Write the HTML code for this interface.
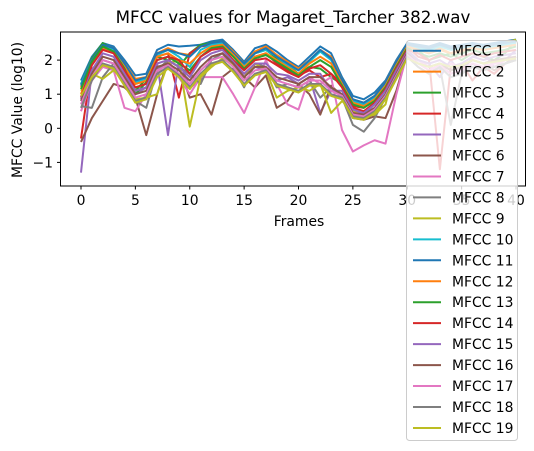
<!DOCTYPE html>
<html><head><meta charset="utf-8"><style>
html,body{margin:0;padding:0;background:#fff;}
svg{display:block;font-family:"DejaVu Sans","Liberation Sans",sans-serif;}
</style></head><body>
<svg id="chart" width="534" height="451" viewBox="0 0 534 451" xmlns="http://www.w3.org/2000/svg">
<text x="293" y="23" font-size="16.7" text-anchor="middle" fill="#000">MFCC values for Magaret_Tarcher 382.wav</text>
<text x="299" y="226" font-size="13.9" text-anchor="middle" fill="#000">Frames</text>
<text x="22" y="110" font-size="13.9" text-anchor="middle" fill="#000" transform="rotate(-90 22 110)">MFCC Value (log10)</text>
<g id="ticks"></g>
<g id="series"></g>
<rect x="60.5" y="32" width="465" height="154" fill="none" stroke="#000" stroke-width="1"/>
<g id="legend"></g>
</svg>
<script>
const names = ["MFCC 1","MFCC 2","MFCC 3","MFCC 4","MFCC 5","MFCC 6","MFCC 7","MFCC 8","MFCC 9","MFCC 10","MFCC 11","MFCC 12","MFCC 13","MFCC 14","MFCC 15","MFCC 16","MFCC 17","MFCC 18","MFCC 19"];
const xTicks = [0,5,10,15,20,25,30,35,40];
const yTicks = [-1,0,1,2];
const s1 = [1.4,2.1,2.5,2.4,2.0,1.55,1.6,2.3,2.45,2.4,2.42,2.45,2.55,2.6,2.3,1.95,2.35,2.45,2.25,2.0,1.8,2.1,2.4,2.2,1.5,0.95,0.85,1.05,1.4,2.0,2.5,2.45,2.4,2.5,2.4,2.45,2.5,2.45,2.5,2.55,2.6];
const s2 = [1.2,2.0,2.45,2.35,1.9,1.45,1.5,2.2,2.35,2.2,2.15,2.4,2.5,2.55,2.25,1.9,2.25,2.4,2.15,1.95,1.75,2.0,2.3,2.1,1.4,0.85,0.75,0.95,1.35,1.95,2.45,2.3,2.2,2.35,2.2,2.25,2.4,2.35,2.4,2.45,2.5];
const s3 = [1.3,2.05,2.5,2.3,1.85,1.1,1.45,2.1,2.0,1.8,2.2,2.45,2.5,2.55,2.2,1.85,2.2,2.3,2.05,1.85,1.6,1.8,1.75,1.5,1.3,0.75,0.7,0.9,1.3,1.9,2.4,2.3,2.0,2.1,2.2,2.0,2.2,2.1,2.0,2.2,2.6];
const s4 = [-0.3,1.9,2.4,2.3,1.9,1.3,1.4,2.1,2.2,0.9,2.2,2.4,2.45,2.5,2.2,1.8,2.1,2.2,1.9,1.7,1.55,1.7,1.5,1.6,1.3,0.65,0.6,0.85,1.25,1.85,2.4,2.1,2.0,-1.2,1.8,1.9,1.4,1.8,1.6,1.9,2.0];
const s5 = [-1.3,1.7,2.0,1.9,1.6,1.0,1.2,1.9,-0.2,2.0,1.2,1.4,2.1,2.2,1.9,1.6,1.8,1.7,1.4,1.5,1.3,1.5,0.45,1.1,1.0,0.5,0.4,0.7,1.1,1.7,2.3,2.0,1.9,1.5,2.0,1.6,2.1,2.2,1.8,2.0,2.3];
const s6 = [-0.4,0.3,0.8,1.3,1.2,0.9,-0.2,1.0,2.0,1.8,0.9,1.0,0.4,1.5,1.75,1.5,1.2,1.55,0.6,0.8,1.3,1.0,0.4,1.25,0.95,0.3,0.25,0.35,0.3,1.1,2.2,2.0,1.8,1.9,1.7,1.8,2.0,1.9,1.7,1.9,2.1];
const s7 = [0.5,1.4,1.8,1.7,0.6,0.5,1.0,1.6,2.0,1.5,1.0,1.5,1.5,1.5,1.0,0.45,1.2,2.0,1.3,0.7,0.55,1.5,1.3,1.5,-0.05,-0.68,-0.5,-0.35,-0.45,1.0,2.2,2.0,1.8,1.7,1.9,1.8,2.0,1.9,1.8,2.0,2.1];
const s8 = [0.65,0.6,1.5,1.9,1.6,0.8,0.6,1.7,2.0,1.8,1.6,1.3,2.0,2.2,1.8,1.2,1.9,1.8,1.2,1.3,1.2,1.4,0.9,1.2,0.9,0.1,-0.1,0.3,0.9,1.5,2.1,1.8,1.6,1.8,0.1,1.6,1.9,1.7,1.8,1.9,2.0];
const s9 = [1.1,1.6,1.45,1.7,1.4,0.85,0.9,1.0,1.9,2.0,0.05,1.5,1.8,2.05,1.85,1.5,1.9,1.7,0.9,1.1,1.2,1.1,1.3,0.45,0.8,0.5,0.35,0.4,0.7,1.9,2.4,2.3,2.2,2.3,2.2,2.3,2.4,2.3,2.4,2.5,2.6];
const s10 = [1.3,2.0,2.4,2.3,1.8,1.35,1.45,2.15,2.3,2.1,1.8,2.3,2.45,2.5,2.2,1.85,2.2,2.3,2.1,1.85,1.7,1.95,2.25,2.0,1.35,0.8,0.7,0.9,1.3,1.9,2.45,2.35,2.3,2.4,2.3,2.35,2.4,2.35,2.4,2.45,2.5];
const s11 = [1.25,2.0,2.45,2.35,1.9,1.4,1.5,2.2,2.3,2.2,2.1,2.4,2.5,2.55,2.2,1.9,2.2,2.35,2.1,1.9,1.7,2.0,2.3,2.05,1.4,0.85,0.75,0.95,1.35,1.95,2.45,2.4,2.35,2.45,2.35,2.4,2.45,2.4,2.45,2.5,2.55];
const s12 = [1.0,1.9,2.35,2.25,1.8,1.3,1.4,2.1,2.2,2.0,1.9,2.2,2.4,2.45,2.15,1.8,2.1,2.2,2.0,1.8,1.6,1.9,2.1,1.9,1.3,0.75,0.65,0.85,1.25,1.85,2.4,2.3,2.2,2.3,2.2,2.3,2.35,2.3,2.35,2.4,2.45];
const s13 = [1.15,1.95,2.4,2.25,1.75,1.0,1.35,2.0,2.1,1.9,1.7,2.1,2.35,2.4,2.1,1.75,2.05,2.15,1.95,1.75,1.55,1.8,2.0,1.8,1.25,0.7,0.6,0.8,1.2,1.8,2.35,2.2,2.1,2.2,2.1,2.2,2.3,2.2,2.25,2.3,2.4];
const s14 = [0.9,1.85,2.3,2.2,1.7,1.2,1.3,2.0,2.1,2.0,1.6,2.1,2.3,2.35,2.0,1.7,2.0,2.05,1.85,1.65,1.5,1.75,1.85,1.6,1.2,0.6,0.5,0.75,1.15,1.75,2.3,2.2,2.0,2.15,2.0,2.1,2.2,2.1,2.2,2.25,2.3];
const s15 = [0.85,1.7,2.2,2.1,1.6,1.1,1.2,1.9,2.0,1.8,1.5,2.0,2.2,2.3,1.95,1.6,1.9,1.9,1.6,1.55,1.4,1.6,1.6,1.1,1.1,0.55,0.45,0.7,1.1,1.7,2.25,2.0,1.9,2.0,1.8,1.9,2.1,2.0,2.1,2.15,2.2];
const s16 = [0.8,1.6,2.1,2.0,1.5,1.0,1.1,1.8,1.9,1.7,1.4,1.8,2.1,2.2,1.9,1.5,1.8,1.8,1.5,1.4,1.3,1.5,1.5,1.2,1.0,0.45,0.4,0.6,1.0,1.6,2.2,1.9,1.8,1.9,1.7,1.8,2.0,1.9,2.0,2.05,2.1];
const s17 = [0.7,1.5,2.0,1.9,1.4,0.9,1.0,1.7,1.85,1.6,1.3,1.7,2.0,2.1,1.8,1.4,1.7,1.75,1.4,1.3,1.2,1.4,1.4,1.1,0.95,0.4,0.35,0.55,0.95,1.55,2.15,1.9,1.7,1.85,1.6,1.7,1.9,1.8,1.9,2.0,2.05];
const s18 = [0.6,1.4,1.9,1.8,1.3,0.8,0.9,1.6,1.8,1.55,1.2,1.6,1.9,2.0,1.7,1.3,1.6,1.7,1.3,1.2,1.1,1.3,1.3,1.0,0.9,0.35,0.3,0.5,0.9,1.5,2.1,1.8,1.6,1.8,1.5,1.6,1.8,1.7,1.8,1.9,2.0];
const s19 = [0.95,1.5,1.85,1.75,1.25,0.75,0.85,1.5,1.75,1.5,1.15,1.55,1.85,1.95,1.65,1.25,1.55,1.65,1.25,1.15,1.05,1.25,1.25,0.95,0.85,0.3,0.25,0.45,0.85,1.45,2.05,1.9,1.8,1.9,1.8,1.85,2.0,1.9,1.95,2.0,2.05];
const allSeries = [s1,s2,s3,s4,s5,s6,s7,s8,s9,s10,s11,s12,s13,s14,s15,s16,s17,s18,s19];
const colors = ["#1f77b4","#ff7f0e","#2ca02c","#d62728","#9467bd","#8c564b","#e377c2","#7f7f7f","#bcbd22","#17becf"];
const NS = "http://www.w3.org/2000/svg";
function xs(f){ return 81 + f*10.875; }
function ys(v){ return 128.3 - v*34.1; }
const tg = document.getElementById('ticks');
xTicks.forEach(t=>{
  const l=document.createElementNS(NS,'line');
  l.setAttribute('x1',xs(t));l.setAttribute('x2',xs(t));l.setAttribute('y1',186);l.setAttribute('y2',189.5);
  l.setAttribute('stroke','#000');
  
  
  tg.appendChild(l);
  const tx=document.createElementNS(NS,'text');
  tx.setAttribute('x',xs(t));tx.setAttribute('y',205);tx.setAttribute('font-size','13.9');tx.setAttribute('text-anchor','middle');
  tx.textContent=t;
  
  
  tg.appendChild(tx);
});
yTicks.forEach(t=>{
  const l=document.createElementNS(NS,'line');
  l.setAttribute('x1',57);l.setAttribute('x2',60.5);l.setAttribute('y1',ys(t));l.setAttribute('y2',ys(t));
  l.setAttribute('stroke','#000');
  
  
  tg.appendChild(l);
  const tx=document.createElementNS(NS,'text');
  tx.setAttribute('x',53);tx.setAttribute('y',ys(t)+5);tx.setAttribute('font-size','13.9');tx.setAttribute('text-anchor','end');
  tx.textContent=t<0?'\u2212'+Math.abs(t):t;
  
  
  tg.appendChild(tx);
});
const sg=document.getElementById('series');
allSeries.forEach((s,i)=>{
  const p=document.createElementNS(NS,'polyline');
  p.setAttribute('points',s.map((v,f)=>xs(f)+','+ys(v)).join(' '));
  p.setAttribute('fill','none');p.setAttribute('stroke',colors[i%10]);p.setAttribute('stroke-width','2');
  p.setAttribute('stroke-linejoin','round');
  
  
  sg.appendChild(p);
});
const lg=document.getElementById('legend');
const box=document.createElementNS(NS,'rect');
box.setAttribute('x',406.5);box.setAttribute('y',40.5);box.setAttribute('width',111);box.setAttribute('height',400);
box.setAttribute('rx',3);box.setAttribute('fill','rgba(255,255,255,0.8)');box.setAttribute('stroke','#cccccc');


lg.appendChild(box);
names.forEach((n,i)=>{
  const y=50.7+i*20.96;
  const l=document.createElementNS(NS,'line');
  l.setAttribute('x1',413);l.setAttribute('x2',441);l.setAttribute('y1',y);l.setAttribute('y2',y);
  l.setAttribute('stroke',colors[i%10]);l.setAttribute('stroke-width','2');
  
  
  lg.appendChild(l);
  const t=document.createElementNS(NS,'text');
  t.setAttribute('x',452);t.setAttribute('y',y+5);t.setAttribute('font-size','13.9');
  t.textContent=n;
  
  
  lg.appendChild(t);
});
</script>
</body></html>
